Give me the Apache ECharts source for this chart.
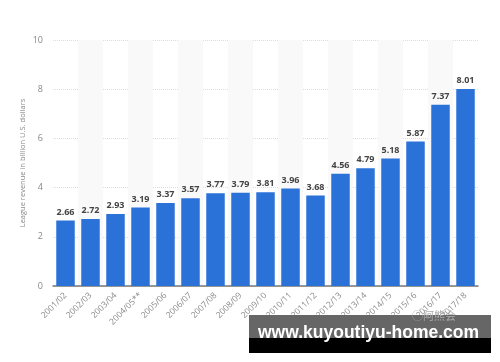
<!DOCTYPE html>
<html><head><meta charset="utf-8">
<script src="https://cdn.jsdelivr.net/npm/echarts@6/dist/echarts.min.js"></script>
<style>html,body{margin:0;padding:0;background:#fff}#c{width:500px;height:362px}</style>
</head><body><div id="c"></div>
<script>
const categories = ['2001/02','2002/03','2003/04','2004/05**','2005/06','2006/07','2007/08','2008/09','2009/10','2010/11','2011/12','2012/13','2013/14','2014/15','2015/16','2016/17','2017/18'];
const revenue = [2.66,2.72,2.93,3.19,3.37,3.57,3.77,3.79,3.81,3.96,3.68,4.56,4.79,5.18,5.87,7.37,8.01];
const yTicks = [0,2,4,6,8,10];
const yTitle = 'League revenue in billion U.S. dollars';
const chart = echarts.init(document.getElementById('c'));
chart.setOption({
  animation:false,
  backgroundColor:'#fff',
  grid:{left:53,right:22,top:40,bottom:76},
  xAxis:{type:'category',data:categories,
    axisLine:{lineStyle:{color:'#777',width:1.5}},
    axisTick:{show:false},
    axisLabel:{rotate:45,fontSize:8.5,color:'#888',fontFamily:'Open Sans',margin:8,interval:0},
    splitArea:{show:true,areaStyle:{color:['rgba(255,255,255,0)','#f9f9f9']}}
  },
  yAxis:{type:'value',min:0,max:10,interval:2,
    name:yTitle,nameLocation:'middle',nameGap:26,nameMoveOverlap:false,
    nameTextStyle:{fontSize:7.5,color:'#888',fontFamily:'Open Sans'},
    axisLine:{show:false},axisTick:{show:false},
    axisLabel:{fontSize:9,color:'#888',fontFamily:'Open Sans',margin:10,
      formatter:v=>yTicks.includes(v)?String(v):''},
    splitLine:{lineStyle:{color:'#ddd',type:'dotted'}}
  },
  series:[{type:'bar',data:revenue,barCategoryGap:'26%',
    itemStyle:{color:'#2a72d8'},
    label:{show:true,position:'top',fontSize:9,fontWeight:'bold',color:'#444',fontFamily:'Open Sans',distance:4,
      formatter:p=>p.value.toFixed(2)}
  }],
  graphic:[
    {type:'rect',shape:{x:249,y:315,width:242,height:23},style:{fill:'#666'},z:100},
    {type:'rect',shape:{x:249,y:338,width:242,height:15},style:{fill:'#000'},z:100},
    {type:'text',left:412,top:310,style:{text:'◯阿熊会',fontSize:11,fill:'#aaa',fontFamily:'Noto Sans CJK SC'},z:102},
    {type:'text',left:258,top:324,style:{text:'www.kuyoutiyu-home.com',fontSize:17.5,fontWeight:'bold',fill:'#fff',fontFamily:'Liberation Sans'},z:103}
  ]
});
</script></body></html>
